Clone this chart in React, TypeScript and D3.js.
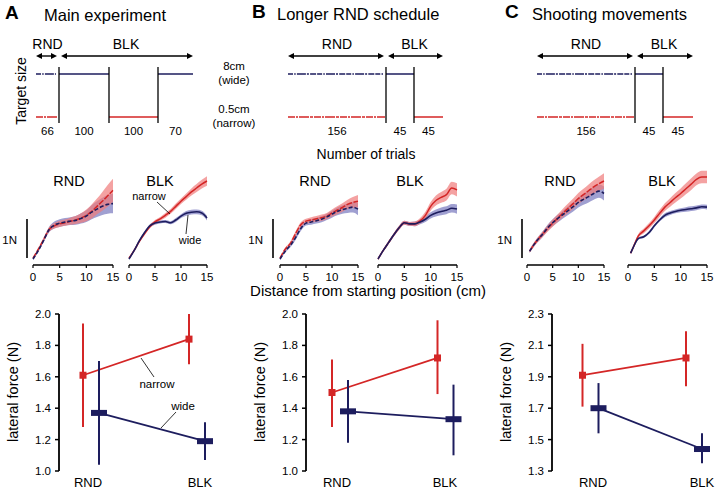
import React from 'react';
import * as d3 from 'd3';

const FONT = 'Liberation Sans, Arial, Helvetica, sans-serif';
const RED = '#d42626';
const NAVY = '#1d1d5e';
const RED_BAND = '#f07a7a';
const BLUE_BAND = '#8080c2';

// ---------- top row: schedules ----------
const trialsA = [66, 100, 100, 70];
const targetsA = ['RND', 'wide', 'narrow', 'wide'];
const trialsB = [156, 45, 45];
const targetsB = ['RND', 'wide', 'narrow'];
const trialsC = [156, 45, 45];
const targetsC = ['RND', 'wide', 'narrow'];

// ---------- middle row: force profiles (N) ----------
const distance = [0, 1, 2, 3, 4, 5, 6, 7, 8, 9, 10, 11, 12, 13, 14, 15];
const distanceC = [0.5, 1, 2, 3, 4, 5, 6, 7, 8, 9, 10, 11, 12, 13, 14, 15];

const aRndNarrow = [0.02, 0.25, 0.5, 0.75, 0.85, 0.9, 0.93, 0.97, 1.0, 1.05, 1.12, 1.22, 1.35, 1.48, 1.62, 1.76];
const aRndNarrowSd = [0.03, 0.04, 0.05, 0.06, 0.07, 0.08, 0.08, 0.09, 0.1, 0.12, 0.15, 0.18, 0.2, 0.24, 0.28, 0.3];
const aRndWide = [0.0, 0.22, 0.48, 0.75, 0.87, 0.92, 0.95, 0.97, 0.99, 1.04, 1.1, 1.2, 1.28, 1.35, 1.4, 1.42];
const aRndWideSd = [0.03, 0.04, 0.05, 0.07, 0.09, 0.1, 0.1, 0.1, 0.11, 0.13, 0.15, 0.18, 0.2, 0.22, 0.24, 0.25];
const aBlkNarrow = [0.02, 0.22, 0.45, 0.65, 0.83, 0.95, 1.03, 1.12, 1.22, 1.35, 1.48, 1.6, 1.72, 1.82, 1.92, 2.0];
const aBlkNarrowSd = [0.02, 0.03, 0.03, 0.04, 0.04, 0.05, 0.05, 0.06, 0.06, 0.07, 0.07, 0.08, 0.09, 0.1, 0.11, 0.12];
const aBlkWide = [0.0, 0.22, 0.47, 0.68, 0.85, 0.92, 0.95, 0.96, 0.93, 1.0, 1.1, 1.17, 1.2, 1.21, 1.18, 1.05];
const aBlkWideSd = [0.02, 0.02, 0.03, 0.03, 0.04, 0.04, 0.04, 0.04, 0.04, 0.05, 0.05, 0.06, 0.06, 0.06, 0.06, 0.06];

const bRndNarrow = [0.02, 0.25, 0.4, 0.65, 0.88, 0.97, 1.0, 1.03, 1.06, 1.1, 1.18, 1.25, 1.32, 1.4, 1.45, 1.48];
const bRndNarrowSd = [0.03, 0.04, 0.05, 0.06, 0.06, 0.06, 0.07, 0.07, 0.08, 0.08, 0.09, 0.1, 0.11, 0.12, 0.14, 0.16];
const bRndWide = [0.0, 0.2, 0.35, 0.55, 0.78, 0.92, 0.95, 0.98, 1.02, 1.08, 1.15, 1.22, 1.27, 1.3, 1.33, 1.28];
const bRndWideSd = [0.03, 0.04, 0.05, 0.06, 0.06, 0.06, 0.07, 0.07, 0.08, 0.08, 0.09, 0.1, 0.11, 0.12, 0.14, 0.16];
const bBlkNarrow = [0.0, 0.22, 0.42, 0.62, 0.8, 0.93, 0.9, 0.9, 0.98, 1.12, 1.35, 1.5, 1.58, 1.65, 1.82, 1.77];
const bBlkNarrowSd = [0.03, 0.03, 0.04, 0.04, 0.05, 0.05, 0.05, 0.06, 0.07, 0.09, 0.11, 0.13, 0.14, 0.15, 0.16, 0.17];
const bBlkWide = [0.0, 0.22, 0.42, 0.62, 0.8, 0.93, 0.9, 0.9, 0.95, 1.02, 1.12, 1.18, 1.22, 1.25, 1.3, 1.28];
const bBlkWideSd = [0.03, 0.03, 0.04, 0.04, 0.05, 0.05, 0.05, 0.06, 0.06, 0.07, 0.08, 0.09, 0.1, 0.1, 0.11, 0.12];

const cRndNarrow = [0.2, 0.3, 0.48, 0.63, 0.78, 0.92, 1.05, 1.18, 1.3, 1.42, 1.55, 1.65, 1.75, 1.85, 1.93, 2.0];
const cRndNarrowSd = [0.04, 0.05, 0.06, 0.07, 0.08, 0.09, 0.1, 0.11, 0.12, 0.13, 0.14, 0.15, 0.16, 0.17, 0.18, 0.2];
const cRndWide = [0.2, 0.3, 0.48, 0.63, 0.8, 0.93, 1.04, 1.14, 1.24, 1.34, 1.45, 1.53, 1.6, 1.68, 1.74, 1.68];
const cRndWideSd = [0.04, 0.05, 0.06, 0.07, 0.08, 0.09, 0.1, 0.1, 0.11, 0.12, 0.13, 0.14, 0.15, 0.16, 0.17, 0.18];
const cBlkNarrow = [0.15, 0.3, 0.6, 0.72, 0.85, 1.0, 1.17, 1.33, 1.45, 1.57, 1.68, 1.8, 1.92, 2.04, 2.1, 2.1];
const cBlkNarrowSd = [0.03, 0.04, 0.05, 0.06, 0.07, 0.08, 0.09, 0.1, 0.11, 0.12, 0.13, 0.14, 0.15, 0.15, 0.16, 0.16];
const cBlkWide = [0.15, 0.3, 0.53, 0.57, 0.68, 0.85, 1.0, 1.12, 1.18, 1.22, 1.25, 1.27, 1.29, 1.31, 1.34, 1.33];
const cBlkWideSd = [0.02, 0.02, 0.03, 0.03, 0.04, 0.04, 0.04, 0.05, 0.05, 0.05, 0.05, 0.06, 0.06, 0.06, 0.06, 0.06];

const distTicks = [0, 5, 10, 15];

// ---------- bottom row: lateral force ----------
const conditions = ['RND', 'BLK'];
const aNarrowMean = [1.61, 1.84];
const aNarrowLo = [1.28, 1.68];
const aNarrowHi = [1.94, 2.0];
const aWideMean = [1.37, 1.19];
const aWideLo = [1.04, 1.07];
const aWideHi = [1.7, 1.31];
const bNarrowMean = [1.5, 1.72];
const bNarrowLo = [1.28, 1.49];
const bNarrowHi = [1.71, 1.96];
const bWideMean = [1.38, 1.33];
const bWideLo = [1.18, 1.1];
const bWideHi = [1.58, 1.55];
const cNarrowMean = [1.91, 2.02];
const cNarrowLo = [1.71, 1.84];
const cNarrowHi = [2.11, 2.19];
const cWideMean = [1.7, 1.44];
const cWideLo = [1.54, 1.35];
const cWideHi = [1.86, 1.54];
const ticksAB = [1.0, 1.2, 1.4, 1.6, 1.8, 2.0];
const ticksC = [1.3, 1.5, 1.7, 1.9, 2.1, 2.3];

function DoubleArrow({ x1, x2, y }: { x1: number; x2: number; y: number }) {
  const h = 6, w = 3;
  return (
    <g>
      <line x1={x1 + 2} x2={x2 - 2} y1={y} y2={y} stroke="#000" strokeWidth={1.4} />
      <path d={`M${x1},${y} L${x1 + h},${y - w} L${x1 + h},${y + w} Z`} fill="#000" />
      <path d={`M${x2},${y} L${x2 - h},${y - w} L${x2 - h},${y + w} Z`} fill="#000" />
    </g>
  );
}

function Schedule({ trials, targets, xs }: { trials: number[]; targets: string[]; xs: number[] }) {
  const cum = [0];
  trials.forEach((t) => cum.push(cum[cum.length - 1] + t));
  const x = d3.scaleLinear().domain(cum).range(xs);
  const yWide = 74, yNarrow = 117;
  const n = trials.length;
  const els: any[] = [];
  trials.forEach((t, i) => {
    const a = x(cum[i]);
    const b = x(cum[i + 1]);
    if (targets[i] === 'RND') {
      els.push(<line key={'rw' + i} x1={a} x2={b - 3} y1={yWide} y2={yWide} stroke={NAVY} strokeWidth={1.3} strokeDasharray="5 1.2 1.5 1.2 9 1 2 1.2 6 1" />);
      els.push(<line key={'rn' + i} x1={a} x2={b - 1} y1={yNarrow} y2={yNarrow} stroke={RED} strokeWidth={1.3} strokeDasharray="7 1 2 1 10 1 3 1" />);
    } else if (targets[i] === 'wide') {
      els.push(<line key={'w' + i} x1={a} x2={b} y1={yWide} y2={yWide} stroke={NAVY} strokeWidth={1.5} />);
    } else {
      els.push(<line key={'n' + i} x1={a} x2={b} y1={yNarrow} y2={yNarrow} stroke={RED} strokeWidth={1.5} />);
    }
    els.push(
      <text key={'t' + i} x={(a + b) / 2} y={135} fontSize={11.5} textAnchor="middle">{t}</text>
    );
  });
  for (let i = 1; i < n; i++) {
    els.push(<line key={'v' + i} x1={x(cum[i])} x2={x(cum[i])} y1={67} y2={123} stroke="#000" strokeWidth={1.3} />);
  }
  const x0 = x(cum[0]), x1 = x(cum[1]), xe = x(cum[n]);
  return (
    <g>
      {els}
      <DoubleArrow x1={x0} x2={x1 - 2} y={56} />
      <DoubleArrow x1={x1 + 2} x2={xe} y={56} />
      <text x={(x0 + x1) / 2} y={49} fontSize={14} textAnchor="middle">RND</text>
      <text x={(x1 + xe) / 2} y={49} fontSize={14} textAnchor="middle">BLK</text>
    </g>
  );
}

function ForcePanel(props: {
  x0: number; x1: number; titleX: number; title: string; dist: number[];
  narrow: number[]; narrowSd: number[]; wide: number[]; wideSd: number[]; dashed: boolean;
}) {
  const { x0, x1, titleX, title, dist, narrow, narrowSd, wide, wideSd, dashed } = props;
  const x = d3.scaleLinear().domain([0, 15]).range([x0, x1]);
  const y = d3.scaleLinear().domain([0, 1]).range([259, 220]);
  const area = (m: number[], s: number[]) =>
    d3.area<number>().x((_, i) => x(dist[i])).y0((_, i) => y(m[i] - s[i])).y1((_, i) => y(m[i] + s[i])).curve(d3.curveMonotoneX)(m) || '';
  const line = (m: number[]) =>
    d3.line<number>().x((_, i) => x(dist[i])).y((v) => y(v)).curve(d3.curveMonotoneX)(m) || '';
  const axisY = 265;
  return (
    <g>
      <text x={titleX} y={186} fontSize={14.5} textAnchor="middle">{title}</text>
      <path d={area(wide, wideSd)} fill={BLUE_BAND} fillOpacity={0.75} />
      <path d={area(narrow, narrowSd)} fill={RED_BAND} fillOpacity={0.7} />
      <path d={line(narrow)} fill="none" stroke={RED} strokeWidth={1.5} strokeDasharray={dashed ? '6 1.5' : undefined} />
      <path d={line(wide)} fill="none" stroke={NAVY} strokeWidth={1.6} strokeDasharray={dashed ? '4 2' : undefined} />
      <line x1={x(0)} x2={x(15)} y1={axisY} y2={axisY} stroke="#000" strokeWidth={1.4} />
      {distTicks.map((t) => (
        <g key={t}>
          <line x1={x(t)} x2={x(t)} y1={axisY} y2={axisY + 3} stroke="#000" strokeWidth={1.2} />
          <text x={x(t)} y={281} fontSize={11.5} textAnchor="middle">{t}</text>
        </g>
      ))}
    </g>
  );
}

function ScaleBar({ x }: { x: number }) {
  return (
    <g>
      <line x1={x} x2={x} y1={219} y2={258} stroke="#000" strokeWidth={1.6} />
      <text x={x - 10} y={244} fontSize={11.5} textAnchor="end">1N</text>
    </g>
  );
}

function ForceBars(props: {
  axisX: number; rangeX: [number, number]; domain: [number, number]; ticks: number[];
  nMean: number[]; nLo: number[]; nHi: number[]; wMean: number[]; wLo: number[]; wHi: number[];
  labelX: number[];
}) {
  const { axisX, rangeX, domain, ticks, nMean, nLo, nHi, wMean, wLo, wHi, labelX } = props;
  const y = d3.scaleLinear().domain(domain).range([471, 314]);
  const x = d3.scalePoint<string>().domain(conditions).range(rangeX);
  const off = 8;
  const nx = (c: string) => (x(c) as number) - off;
  const wx = (c: string) => (x(c) as number) + off;
  return (
    <g>
      <line x1={axisX} x2={axisX} y1={y(domain[0])} y2={y(domain[1])} stroke="#000" strokeWidth={1.8} />
      {ticks.map((t) => (
        <g key={t}>
          <line x1={axisX - 4} x2={axisX} y1={y(t)} y2={y(t)} stroke="#000" strokeWidth={1.5} />
          <text x={axisX - 8} y={y(t) + 4} fontSize={11.5} textAnchor="end">{d3.format('.1f')(t)}</text>
        </g>
      ))}
      <text transform={`translate(${axisX - 41},${392}) rotate(-90)`} fontSize={14.5} textAnchor="middle">lateral force (N)</text>
      {conditions.map((c, i) => (
        <text key={c} x={labelX[i]} y={487} fontSize={13} textAnchor="middle">{c}</text>
      ))}
      {/* narrow */}
      <line x1={nx(conditions[0])} y1={y(nMean[0])} x2={nx(conditions[1])} y2={y(nMean[1])} stroke={RED} strokeWidth={1.8} />
      {conditions.map((c, i) => (
        <g key={'n' + c}>
          <line x1={nx(c)} x2={nx(c)} y1={y(nLo[i])} y2={y(nHi[i])} stroke={RED} strokeWidth={2} />
          <rect x={nx(c) - 3.5} y={y(nMean[i]) - 3.5} width={7} height={7} fill={RED} />
        </g>
      ))}
      {/* wide */}
      <line x1={wx(conditions[0])} y1={y(wMean[0])} x2={wx(conditions[1])} y2={y(wMean[1])} stroke={NAVY} strokeWidth={1.8} />
      {conditions.map((c, i) => (
        <g key={'w' + c}>
          <line x1={wx(c)} x2={wx(c)} y1={y(wLo[i])} y2={y(wHi[i])} stroke={NAVY} strokeWidth={2} />
          <rect x={wx(c) - 8} y={y(wMean[i]) - 3} width={16} height={6} fill={NAVY} />
        </g>
      ))}
    </g>
  );
}

export default function App() {
  return (
    <svg width={715} height={493} style={{ position: 'absolute', left: 0, top: 0, background: '#fff' }} fontFamily={FONT}>
      <rect width={715} height={493} fill="#fff" />
      {/* headers */}
      <text x={5} y={19} fontSize={19} fontWeight="bold">A</text>
      <text x={44} y={21} fontSize={16.5}>Main experiment</text>
      <text x={252} y={18} fontSize={19} fontWeight="bold">B</text>
      <text x={277} y={20} fontSize={16.5}>Longer RND schedule</text>
      <text x={505} y={18} fontSize={19} fontWeight="bold">C</text>
      <text x={532} y={20} fontSize={16.5}>Shooting movements</text>

      {/* schedules */}
      <text transform="translate(26,91) rotate(-90)" fontSize={14} textAnchor="middle">Target size</text>
      <Schedule trials={trialsA} targets={targetsA} xs={[36, 59, 109, 158, 193]} />
      <Schedule trials={trialsB} targets={targetsB} xs={[288, 386, 414, 443]} />
      <Schedule trials={trialsC} targets={targetsC} xs={[537, 635, 663, 693]} />
      <text x={234} y={70} fontSize={11.5} textAnchor="middle">8cm</text>
      <text x={234} y={84} fontSize={11.5} textAnchor="middle">(wide)</text>
      <text x={234} y={113} fontSize={11.5} textAnchor="middle">0.5cm</text>
      <text x={234} y={127} fontSize={11.5} textAnchor="middle">(narrow)</text>
      <text x={366} y={159} fontSize={14} textAnchor="middle">Number of trials</text>

      {/* force profiles */}
      <ScaleBar x={27} />
      <ScaleBar x={273} />
      <ScaleBar x={522} />
      <ForcePanel x0={33} x1={113} titleX={69} title="RND" dist={distance} narrow={aRndNarrow} narrowSd={aRndNarrowSd} wide={aRndWide} wideSd={aRndWideSd} dashed />
      <ForcePanel x0={129} x1={207} titleX={160} title="BLK" dist={distance} narrow={aBlkNarrow} narrowSd={aBlkNarrowSd} wide={aBlkWide} wideSd={aBlkWideSd} dashed={false} />
      <ForcePanel x0={280} x1={358} titleX={315} title="RND" dist={distance} narrow={bRndNarrow} narrowSd={bRndNarrowSd} wide={bRndWide} wideSd={bRndWideSd} dashed />
      <ForcePanel x0={378} x1={457} titleX={410} title="BLK" dist={distance} narrow={bBlkNarrow} narrowSd={bBlkNarrowSd} wide={bBlkWide} wideSd={bBlkWideSd} dashed={false} />
      <ForcePanel x0={527} x1={604} titleX={560} title="RND" dist={distanceC} narrow={cRndNarrow} narrowSd={cRndNarrowSd} wide={cRndWide} wideSd={cRndWideSd} dashed />
      <ForcePanel x0={628} x1={707} titleX={662} title="BLK" dist={distanceC} narrow={cBlkNarrow} narrowSd={cBlkNarrowSd} wide={cBlkWide} wideSd={cBlkWideSd} dashed={false} />
      <text x={149} y={200} fontSize={11} textAnchor="middle">narrow</text>
      <line x1={157} y1={202} x2={170} y2={214} stroke="#000" strokeWidth={0.8} />
      <text x={190} y={244} fontSize={11} textAnchor="middle">wide</text>
      <line x1={186} y1={234} x2={188} y2={215} stroke="#000" strokeWidth={0.8} />
      <text x={368} y={296} fontSize={15} textAnchor="middle">Distance from starting position (cm)</text>

      {/* bottom row */}
      <ForceBars axisX={59} rangeX={[91, 197]} domain={[1.0, 2.0]} ticks={ticksAB}
        nMean={aNarrowMean} nLo={aNarrowLo} nHi={aNarrowHi} wMean={aWideMean} wLo={aWideLo} wHi={aWideHi} labelX={[88, 200]} />
      <ForceBars axisX={306} rangeX={[340, 445.5]} domain={[1.0, 2.0]} ticks={ticksAB}
        nMean={bNarrowMean} nLo={bNarrowLo} nHi={bNarrowHi} wMean={bWideMean} wLo={bWideLo} wHi={bWideHi} labelX={[337, 445]} />
      <ForceBars axisX={552} rangeX={[590.5, 694]} domain={[1.3, 2.3]} ticks={ticksC}
        nMean={cNarrowMean} nLo={cNarrowLo} nHi={cNarrowHi} wMean={cWideMean} wLo={cWideLo} wHi={cWideHi} labelX={[593, 702]} />
      <text x={157} y={388} fontSize={11.5} textAnchor="middle">narrow</text>
      <line x1={141} y1={358} x2={154} y2={377} stroke="#000" strokeWidth={0.8} />
      <text x={183} y={410} fontSize={11.5} textAnchor="middle">wide</text>
      <line x1={176} y1={412} x2={161} y2={428} stroke="#000" strokeWidth={0.8} />
    </svg>
  );
}
